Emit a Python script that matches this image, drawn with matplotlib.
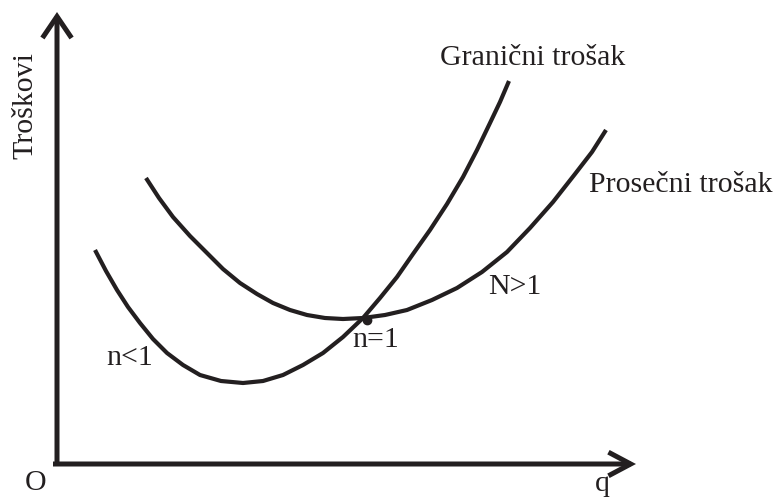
import matplotlib as mpl
mpl.use("Agg")
import matplotlib.pyplot as plt

# Values (arbitrary units: output q, cost)
mc_q = [38, 49, 60, 71, 83, 96, 110, 126, 143, 164, 186, 206, 226, 246,
        266, 286, 306, 323, 340, 356, 373, 390, 406, 420, 433, 443, 452]
mc_cost = [214, 193, 174, 157, 141, 125, 111, 99, 89, 83, 81, 83, 89, 99,
           111, 127, 146, 166, 187, 210, 234, 260, 287, 314, 341, 362, 383]

ac_q = [89, 102, 116, 133, 150, 166, 183, 200, 216, 233, 250, 268, 286,
        306, 328, 350, 375, 400, 425, 450, 473, 496, 518, 535, 549]
ac_cost = [286, 266, 247, 228, 211, 195, 181, 170, 161, 154, 149, 146, 145,
           146, 149, 154, 164, 176, 192, 212, 236, 262, 290, 312, 334]

eq_q = [310]
eq_cost = [144]

INK = "#231f20"
FONT = ["Liberation Serif", "DejaVu Serif"]
FS = 21.5

fig = plt.figure(figsize=(7.81, 4.99), dpi=100)
ax = fig.add_axes([0, 0, 1, 1])
ax.set_xlim(-57, 724)
ax.set_ylim(-35, 464)
ax.axis("off")

# axes with open chevron arrow heads
ax.annotate("", xy=(579, 0), xytext=(-4, 0),
            arrowprops=dict(arrowstyle="->,head_length=1.6,head_width=0.85",
                            lw=3.6, color=INK, shrinkA=0, shrinkB=0,
                            joinstyle="miter", capstyle="butt"))
ax.annotate("", xy=(0, 452), xytext=(0, -2),
            arrowprops=dict(arrowstyle="->,head_length=1.55,head_width=1.05",
                            lw=3.6, color=INK, shrinkA=0, shrinkB=0,
                            joinstyle="miter", capstyle="butt"))

ax.plot(mc_q, mc_cost, color=INK, lw=3.0, solid_joinstyle="round",
        solid_capstyle="butt")
ax.plot(ac_q, ac_cost, color=INK, lw=3.0, solid_joinstyle="round",
        solid_capstyle="butt")
ax.plot(eq_q, eq_cost, "o", color=INK, ms=6)

txt = dict(family=FONT, fontsize=FS, color=INK)
ax.text(-32, 358, "Troškovi", rotation=90, ha="center", va="center", **txt)
ax.text(476, 406, "Granični trošak", ha="center", va="center", **txt)
ax.text(532, 279, "Prosečni trošak", ha="left", va="center", **txt)
ax.text(458, 177, "N>1", ha="center", va="center", **txt)
ax.text(73, 106, "n<1", ha="center", va="center", **txt)
ax.text(319, 124, "n=1", ha="center", va="center", **txt)
ax.text(-21, -19, "O", ha="center", va="center", **txt)
ax.text(545, -20, "q", ha="center", va="center", **txt)

fig.savefig("out.png", dpi=100)
